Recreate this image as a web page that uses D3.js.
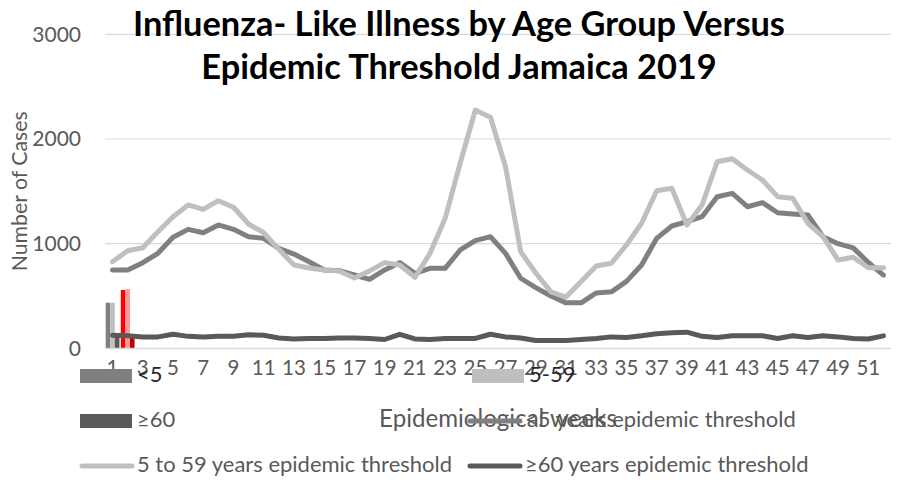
<!DOCTYPE html>
<html>
<head>
<meta charset="utf-8">
<script src="https://cdn.jsdelivr.net/npm/d3@7"></script>
<style>
  body { margin: 0; background: #ffffff; }
  text { font-family: Lato, "Open Sans", sans-serif; }
</style>
</head>
<body>
<svg id="chart" width="898" height="480"></svg>
<script>
// Epidemiological weeks of 2019
const weeks = [1, 2, 3, 4, 5, 6, 7, 8, 9, 10, 11, 12, 13, 14, 15, 16, 17, 18, 19, 20,
  21, 22, 23, 24, 25, 26, 27, 28, 29, 30, 31, 32, 33, 34, 35, 36, 37, 38, 39, 40,
  41, 42, 43, 44, 45, 46, 47, 48, 49, 50, 51, 52];
const weekTickLabels = [1, 3, 5, 7, 9, 11, 13, 15, 17, 19, 21, 23, 25, 27, 29, 31, 33, 35,
  37, 39, 41, 43, 45, 47, 49, 51];
const caseTicks = [0, 1000, 2000, 3000];

// Reported ILI cases by age group (only weeks 1 and 2 reported so far)
const reportedWeeks = [1, 2];
const casesUnder5 = [436, 558];
const cases5to59 = [436, 567];
const cases60plus = [130, 120];

// Epidemic thresholds per week
const thresholdUnder5 = [749, 749, 819, 908, 1061, 1137, 1105, 1179, 1137, 1067, 1051, 956,
  901, 828, 749, 742, 701, 660, 749, 819, 717, 765, 765, 940, 1029, 1067, 908, 670, 580,
  500, 435, 435, 530, 540, 640, 797, 1051, 1169, 1210, 1258, 1449, 1481, 1353, 1392, 1296,
  1284, 1274, 1067, 1000, 960, 820, 700];
const threshold5to59 = [828, 933, 962, 1115, 1258, 1370, 1328, 1411, 1348, 1188, 1105, 946,
  797, 768, 748, 740, 672, 740, 819, 797, 679, 908, 1240, 1771, 2277, 2207, 1735, 924, 720,
  540, 490, 640, 787, 813, 988, 1195, 1506, 1529, 1179, 1370, 1783, 1812, 1704, 1608, 1449,
  1434, 1195, 1067, 844, 870, 770, 770];
const threshold60plus = [125, 120, 110, 110, 135, 115, 110, 115, 115, 130, 125, 100, 90, 95,
  95, 100, 100, 95, 85, 135, 90, 85, 95, 95, 95, 135, 110, 100, 75, 75, 75, 85, 95, 110,
  105, 120, 140, 150, 155, 115, 105, 120, 120, 120, 95, 120, 105, 120, 110, 95, 90, 120];

// Bar fills for each reported week: [<5, 5-59, ≥60]
const weekBarColours = [["#808080", "#bfbfbf", "#595959"], ["#ff0000", "#ff9999", "#c00000"]];

const svg = d3.select("#chart");
const plot = { left: 105, right: 891, top: 34.3, bottom: 348.4 };

const x = d3.scaleBand().domain(weeks).range([plot.left, plot.right]);
const step = x.step();
const cx = w => x(w) + step / 2;
const y = d3.scaleLinear().domain([0, 3000]).range([plot.bottom, plot.top]);

// Size a text element so it spans the requested width
function fitWidth(sel, width) {
  const base = +sel.attr("font-size");
  const len = sel.node().getComputedTextLength();
  sel.attr("font-size", base * width / len);
  return sel;
}

// Gridlines
svg.append("g")
  .selectAll("line")
  .data(caseTicks.filter(t => t > 0))
  .join("line")
  .attr("x1", plot.left).attr("x2", plot.right)
  .attr("y1", d => y(d)).attr("y2", d => y(d))
  .attr("stroke", "#d9d9d9").attr("stroke-width", 1.2);

// Y axis labels
const yAxis = svg.append("g").attr("transform", `translate(${plot.left},0)`)
  .call(d3.axisLeft(y).tickValues(caseTicks).tickSize(0).tickPadding(24).tickFormat(d3.format("d")));
yAxis.select(".domain").remove();
yAxis.selectAll("text").attr("font-size", 21).attr("fill", "#595959")
  .attr("font-family", "Lato, sans-serif");

// Bars
const barSeries = [casesUnder5, cases5to59, cases60plus];
const sub = d3.scaleBand().domain([0, 1, 2]).range([0, step]).paddingOuter(0.15);
reportedWeeks.forEach((wk, wi) => {
  svg.append("g").selectAll("rect")
    .data(barSeries.map((s, si) => ({ si, v: s[wi] })))
    .join("rect")
    .attr("x", d => x(wk) + sub(d.si))
    .attr("width", sub.bandwidth())
    .attr("y", d => y(d.v))
    .attr("height", d => y(0) - y(d.v))
    .attr("fill", d => weekBarColours[wi][d.si]);
});

// X axis line and labels
svg.append("line")
  .attr("x1", plot.left).attr("x2", plot.right)
  .attr("y1", y(0)).attr("y2", y(0))
  .attr("stroke", "#d9d9d9").attr("stroke-width", 1.5);

const xAxis = svg.append("g").attr("transform", `translate(0,${plot.bottom})`)
  .call(d3.axisBottom(x).tickValues(weekTickLabels).tickSize(0).tickPadding(23));
xAxis.select(".domain").remove();
xAxis.selectAll("text").attr("font-size", 20.5).attr("fill", "#595959")
  .attr("font-family", "Lato, sans-serif").attr("dy", "0.2em");

// Threshold lines
const line = d3.line().x((d, i) => cx(weeks[i])).y(d => y(d));
const lineSeries = [
  { data: thresholdUnder5, colour: "#808080" },
  { data: threshold5to59, colour: "#bfbfbf" },
  { data: threshold60plus, colour: "#595959" }
];
svg.append("g").selectAll("path")
  .data(lineSeries)
  .join("path")
  .attr("d", d => line(d.data))
  .attr("fill", "none")
  .attr("stroke", d => d.colour)
  .attr("stroke-width", 5)
  .attr("stroke-linejoin", "round")
  .attr("stroke-linecap", "round");

// Title
const title = svg.append("g");
const t1 = fitWidth(title.append("text").attr("x", 459).attr("y", 36).attr("text-anchor", "middle")
  .attr("font-size", 28).attr("font-weight", "bold").attr("fill", "#000")
  .text("Influenza- Like Illness by Age Group Versus"), 652);
title.append("text").attr("x", 459).attr("y", 79).attr("text-anchor", "middle")
  .attr("font-size", t1.attr("font-size")).attr("font-weight", "bold").attr("fill", "#000")
  .text("Epidemic Threshold Jamaica 2019");

// Axis titles
fitWidth(svg.append("text").attr("text-anchor", "middle")
  .attr("transform", `translate(27,${(plot.top + plot.bottom) / 2}) rotate(-90)`)
  .attr("font-size", 20).attr("fill", "#595959").text("Number of Cases"), 160);
fitWidth(svg.append("text").attr("x", (plot.left + plot.right) / 2).attr("y", 427)
  .attr("text-anchor", "middle").attr("font-size", 21).attr("fill", "#595959")
  .text("Epidemiological weeks"), 238);

// Legend
const legend = svg.append("g");
const legendItems = [
  { label: "<5", kind: "rect", colour: "#808080", x: 80, row: 0 },
  { label: "5-59", kind: "rect", colour: "#bfbfbf", x: 472, row: 0 },
  { label: "≥60", kind: "rect", colour: "#595959", x: 80, row: 1 },
  { label: "<5 years epidemic threshold", kind: "line", colour: "#808080", x: 468, row: 1 },
  { label: "5 to 59 years epidemic threshold", kind: "line", colour: "#bfbfbf", x: 80, row: 2 },
  { label: "≥60 years epidemic threshold", kind: "line", colour: "#595959", x: 468, row: 2 }
];
const rowBase = [382, 427, 472];
// Legend type size set from the longest entry
const probe = svg.append("text").attr("font-size", 20).text(legendItems[4].label);
fitWidth(probe, 315);
const legendSize = +probe.attr("font-size");
probe.remove();
legendItems.forEach(it => {
  const base = rowBase[it.row];
  if (it.kind === "rect") {
    legend.append("rect").attr("x", it.x).attr("y", base - 13).attr("width", 52).attr("height", 14)
      .attr("fill", it.colour);
  } else {
    legend.append("line").attr("x1", it.x + 2).attr("x2", it.x + 52)
      .attr("y1", base - 6).attr("y2", base - 6)
      .attr("stroke", it.colour).attr("stroke-width", 5).attr("stroke-linecap", "round");
  }
  legend.append("text").attr("x", it.x + 57).attr("y", base)
    .attr("font-size", legendSize).attr("fill", it.row === 0 ? "#262626" : "#595959").text(it.label);
});
</script>
</body>
</html>
